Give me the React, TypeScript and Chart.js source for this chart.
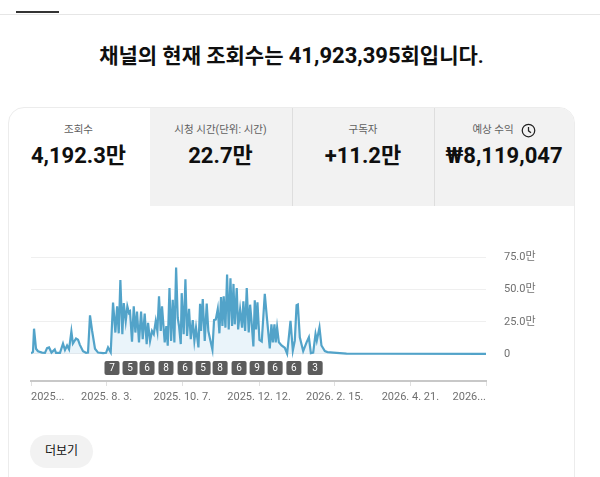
import React, { useEffect, useRef } from "react";
import { Chart, registerables } from "chart.js";

Chart.register(...registerables);

const FONT = "Roboto, 'Noto Sans CJK KR', sans-serif";

const tabLabels = ["조회수", "시청 시간(단위: 시간)", "구독자", "예상 수익"];
const tabValues = ["4,192.3만", "22.7만", "+11.2만", "₩8,119,047"];

const tickDays = [0, 65, 130, 196, 261, 326, 391];
const tickLabels = ["2025...", "2025. 8. 3.", "2025. 10. 7.", "2025. 12. 12.", "2026. 2. 15.", "2026. 4. 21.", "2026..."];
const yTicks = [0, 25, 50, 75];

const chipDays = [69.6, 85.1, 99.7, 116, 132.4, 147.9, 162.5, 178.8, 194.3, 209.8, 225.9, 244.2];
const chipLabels = ["7", "5", "6", "8", "6", "5", "8", "6", "9", "6", "6", "3"];

const days = [
  0, 1.7, 2.6, 4.3, 6, 9.5, 12, 13.8, 15.5, 17.6, 20.4, 21.5, 24.9, 27.5, 29.2, 31, 32.7, 34.7, 36, 38.7, 40.4, 42, 44.7, 47.3, 49, 50.7, 52.5, 55, 57.6, 62, 64.5, 66.2,
  68.5, 70.5, 72.5, 74, 75.4, 76.8, 78.5, 79.7, 81.4, 82.8, 84.2, 85.1, 86.8, 88.3, 89.7, 91.1, 92.8, 94.6, 96, 97.7, 99.4, 100.6, 102.3, 104, 105.5, 107.2, 108.6, 110, 111.5, 112.6, 114.9,
  116.3, 117.5, 119, 120.4, 121.8, 123.2, 124.7, 126.1, 127.2, 128.7, 129.5, 131.2, 132.7, 134.1, 135.8, 137.3, 139, 140.4, 141.8, 143.9, 145.3, 146.1, 147.6, 149.3, 151, 152.4, 154.2, 155.9, 157.3, 158.8, 160.5, 161.9, 163.3, 164.5,
  165.6, 167.1, 168.5, 169.9, 171.4, 172.8, 174, 175.1, 176.8, 178, 179.7, 181.4, 182.5, 184, 185.4, 187.1, 188.3, 189.4, 191.1, 192.3, 193.4, 194.6, 196.3, 198.3, 200.9, 202.6, 205.2, 206.6, 207.8, 209.2, 210.3, 211.5,
  213, 215.3, 218.1, 220.1, 223, 225, 226.7, 228.2, 229.3, 231, 233.9, 236.8, 238.8, 240.5, 242.5, 244.5, 245.6, 247.9, 249.6, 252.5, 254.8, 259.7, 265.4, 271.1, 300, 391,
];
const views = [
  0.5, 1.5, 19.6, 4, 2, 1, 0.8, 4.5, 5, 1, 3.5, 0.8, 0.8, 8, 3, 6.5, 3.5, 17.5, 8, 12, 11, 7, 2, 0.8, 1, 30, 18, 4, 1, 0.6, 0.8, 5,
  1.2, 40, 16.6, 37, 16, 57.6, 15.3, 39.6, 25.5, 37, 32, 33, 9.4, 37, 16.6, 33, 8.9, 33, 11.4, 31.4, 7.6, 24.2, 10, 17.8, 15.3, 25.5, 17.8, 44.8, 17.8, 37, 8.9,
  21.7, 6.3, 51.2, 10.1, 42.2, 8.9, 67.3, 28, 21.7, 7.6, 47.3, 15.3, 58.1, 14, 35, 11.4, 26.3, 10.1, 20.4, 5, 39.1, 17.8, 42.7, 10.1, 39.1, 17.8, 10.1, 3.2, 26.3, 26.8, 35, 16, 44.2, 21.7,
  44.8, 20.4, 61.9, 19.1, 58.9, 21.7, 54.5, 23, 51.2, 19.1, 34.5, 20.4, 40.9, 17.8, 51.2, 16.6, 38.3, 26.8, 5.8, 41.7, 19.1, 40.1, 10.9, 9.6, 46.8, 29.4, 4.2, 23, 8.9, 23, 8.9, 20.4,
  9, 6.5, 4.7, 0.2, 25.7, 2.6, 10.3, 38, 38.5, 12.9, 2.1, 9, 12.9, 0.6, 1, 15.5, 10.3, 20.6, 6.5, 2.1, 1.4, 1, 0.6, 0.2, 0.1, 0,
];

const chipPlugin = {
  id: "chips",
  afterDatasetsDraw(chart: any) {
    const { ctx, scales } = chart;
    ctx.save();
    chipDays.forEach((d, i) => {
      const x = scales.x.getPixelForValue(d);
      const y = scales.y.getPixelForValue(-11);
      ctx.fillStyle = "#5c5c5c";
      ctx.beginPath();
      ctx.roundRect(x - 7.5, y - 7, 15, 14, 2);
      ctx.fill();
      ctx.fillStyle = "#ffffff";
      ctx.font = `10px ${FONT}`;
      ctx.textAlign = "center";
      ctx.textBaseline = "middle";
      ctx.fillText(chipLabels[i], x, y + 0.5);
    });
    ctx.restore();
  },
};

export default function App() {
  const ref = useRef<HTMLCanvasElement>(null);
  useEffect(() => {
    const chart = new Chart(ref.current!, {
      type: "line",
      data: {
        datasets: [
          {
            data: days.map((d, i) => ({ x: d, y: views[i] })),
            borderColor: "#52a3c9",
            borderWidth: 2.2,
            backgroundColor: "#eaf4fa",
            fill: { value: 0 },
            pointRadius: 0,
            tension: 0,
          },
        ],
      },
      options: {
        responsive: false,
        animation: false,
        layout: { padding: { left: 31, top: 8, right: 0, bottom: 0 } },
        plugins: { legend: { display: false }, tooltip: { enabled: false } },
        scales: {
          x: {
            type: "linear",
            min: 0,
            max: 391,
            afterBuildTicks: (s: any) => {
              s.ticks = tickDays.map((value) => ({ value }));
            },
            afterFit: (s: any) => {
              s.height = 34;
            },
            grid: { drawOnChartArea: false, drawTicks: true, tickLength: 5, color: "#e0e0e0" },
            border: { color: "#c8c8c8", width: 2 },
            ticks: {
              autoSkip: false,
              maxRotation: 0,
              align: "inner",
              padding: 5,
              color: "#707070",
              font: { size: 11, family: FONT },
              callback: (_v: any, i: number) => tickLabels[i],
            },
          },
          y: {
            position: "right",
            min: -21.15,
            max: 75,
            afterBuildTicks: (s: any) => {
              s.ticks = yTicks.map((value) => ({ value }));
            },
            afterFit: (s: any) => {
              s.width = 114;
            },
            grid: {
              drawTicks: false,
              color: (c: any) => (c.tick && c.tick.value === 0 ? "#c4c4c4" : "#efefef"),
            },
            border: { display: false },
            ticks: {
              padding: 18,
              color: "#707070",
              font: { size: 11, family: FONT },
              callback: (v: any) => (v === 0 ? "0" : `${Number(v).toFixed(1)}만`),
            },
          },
        },
      },
      plugins: [chipPlugin],
    } as any);
    return () => chart.destroy();
  }, []);

  const tabLefts = [9, 150, 293, 435];
  const tabWidths = [141, 143, 142, 140];

  return (
    <div style={{ position: "fixed", left: 0, top: 0, width: 600, height: 477, overflow: "hidden", background: "#fff", fontFamily: FONT, color: "#0f0f0f" }}>
      <div style={{ position: "absolute", left: 0, top: 14, width: 600, height: 1, background: "#e6e6e6" }} />
      <div style={{ position: "absolute", left: 16, top: 11, width: 43, height: 2, background: "#333" }} />
      <div style={{ position: "absolute", left: 0, top: 42, width: 583, textAlign: "center", fontSize: 21, fontWeight: 600, lineHeight: "28px" }}>
        채널의 현재 조회수는 <span style={{ fontWeight: 700, fontSize: 22 }}>41,923,395</span>회입니다.
      </div>

      <div style={{ position: "absolute", left: 8, top: 107, width: 567, height: 420, border: "1px solid #ececec", borderRadius: 16, overflow: "hidden", boxSizing: "border-box" }}>
        <div style={{ position: "absolute", left: 141, top: 0, right: 0, height: 98, background: "#f2f2f2" }} />
        <div style={{ position: "absolute", left: 283, top: 0, width: 1, height: 98, background: "#dedede" }} />
        <div style={{ position: "absolute", left: 425, top: 0, width: 1, height: 98, background: "#dedede" }} />
      </div>

      {tabLabels.map((label, i) => (
        <div key={label} style={{ position: "absolute", left: tabLefts[i] - 1, top: 107, width: tabWidths[i], height: 98, textAlign: "center" }}>
          <div style={{ position: "absolute", top: 15, left: 0, right: 0, fontSize: 10.5, lineHeight: "16px", color: "#606060", display: "flex", justifyContent: "center", alignItems: "center", gap: 7 }}>
            <span>{label}</span>
            {i === 3 && (
              <svg width="15" height="15" viewBox="0 0 24 24" fill="none" stroke="#222" strokeWidth="2">
                <circle cx="12" cy="12" r="10" />
                <path d="M12 6.5V12.5L16 15.5" />
              </svg>
            )}
          </div>
          <div style={{ position: "absolute", top: 34, left: 0, right: 0, fontSize: 22, fontWeight: 700, lineHeight: "30px", whiteSpace: "nowrap" }}>{tabValues[i]}</div>
        </div>
      ))}

      <canvas ref={ref} width={600} height={182} style={{ position: "absolute", left: 0, top: 233, width: 600, height: 182 }} />

      <div style={{ position: "absolute", left: 30, top: 435, width: 63, height: 33, borderRadius: 17, background: "#f2f2f2", textAlign: "center", lineHeight: "33px", fontSize: 12 }}>더보기</div>
    </div>
  );
}
